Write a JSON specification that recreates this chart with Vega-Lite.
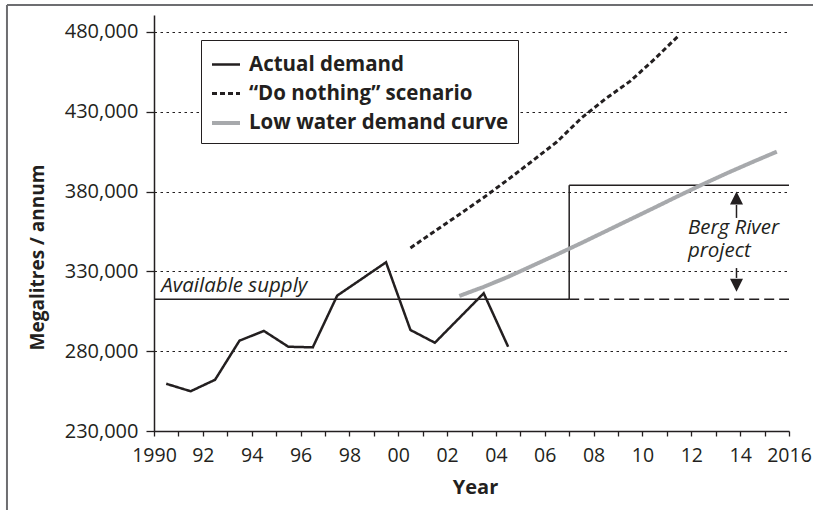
{
  "$schema": "https://vega.github.io/schema/vega-lite/v6.json",
  "width": 635,
  "height": 416,
  "autosize": {"type": "none"},
  "padding": {"left": 154, "top": 15, "right": 24, "bottom": 79},
  "background": "white",
  "config": {
    "view": {"stroke": null},
    "font": "Open Sans",
    "axis": {
      "labelFont": "Open Sans",
      "titleFont": "Open Sans",
      "labelColor": "#231f20",
      "titleColor": "#231f20",
      "domainColor": "#231f20",
      "tickColor": "#231f20",
      "domainWidth": 1.5,
      "tickWidth": 1.3
    },
    "legend": {
      "labelFont": "Open Sans",
      "labelFontSize": 20.5,
      "labelFontWeight": "bold",
      "labelColor": "#231f20",
      "labelLimit": 400,
      "symbolType": "stroke",
      "symbolSize": 784,
      "labelOffset": 7,
      "rowPadding": 3,
      "padding": 9,
      "strokeColor": "#231f20",
      "fillColor": "white"
    }
  },
  "datasets": {
    "series": [
      {"x": 1990.5, "y": 259600, "series": "Actual demand"},
      {"x": 1991.5, "y": 254900, "series": "Actual demand"},
      {"x": 1992.5, "y": 262100, "series": "Actual demand"},
      {"x": 1993.5, "y": 286600, "series": "Actual demand"},
      {"x": 1994.5, "y": 292700, "series": "Actual demand"},
      {"x": 1995.5, "y": 282800, "series": "Actual demand"},
      {"x": 1996.5, "y": 282400, "series": "Actual demand"},
      {"x": 1997.5, "y": 314800, "series": "Actual demand"},
      {"x": 1999.5, "y": 335700, "series": "Actual demand"},
      {"x": 2000.5, "y": 293300, "series": "Actual demand"},
      {"x": 2001.5, "y": 285300, "series": "Actual demand"},
      {"x": 2003.5, "y": 316300, "series": "Actual demand"},
      {"x": 2004.5, "y": 282800, "series": "Actual demand"},
      {"x": 2000.5, "y": 344700, "series": "“Do nothing” scenario"},
      {"x": 2001.5, "y": 355200, "series": "“Do nothing” scenario"},
      {"x": 2002.5, "y": 365700, "series": "“Do nothing” scenario"},
      {"x": 2003.5, "y": 376300, "series": "“Do nothing” scenario"},
      {"x": 2004.5, "y": 387600, "series": "“Do nothing” scenario"},
      {"x": 2005.5, "y": 399300, "series": "“Do nothing” scenario"},
      {"x": 2006.5, "y": 411200, "series": "“Do nothing” scenario"},
      {"x": 2007.5, "y": 426100, "series": "“Do nothing” scenario"},
      {"x": 2008.5, "y": 438300, "series": "“Do nothing” scenario"},
      {"x": 2009.5, "y": 449200, "series": "“Do nothing” scenario"},
      {"x": 2010.5, "y": 463100, "series": "“Do nothing” scenario"},
      {"x": 2011.5, "y": 478000, "series": "“Do nothing” scenario"},
      {"x": 2002.5, "y": 314600, "series": "Low water demand curve"},
      {"x": 2003.5, "y": 320300, "series": "Low water demand curve"},
      {"x": 2004.5, "y": 326600, "series": "Low water demand curve"},
      {"x": 2005.5, "y": 333600, "series": "Low water demand curve"},
      {"x": 2006.5, "y": 340600, "series": "Low water demand curve"},
      {"x": 2007.5, "y": 347800, "series": "Low water demand curve"},
      {"x": 2008.5, "y": 355200, "series": "Low water demand curve"},
      {"x": 2009.5, "y": 362600, "series": "Low water demand curve"},
      {"x": 2010.5, "y": 370000, "series": "Low water demand curve"},
      {"x": 2011.5, "y": 377500, "series": "Low water demand curve"},
      {"x": 2012.5, "y": 384800, "series": "Low water demand curve"},
      {"x": 2013.5, "y": 391800, "series": "Low water demand curve"},
      {"x": 2014.5, "y": 398500, "series": "Low water demand curve"},
      {"x": 2015.5, "y": 405000, "series": "Low water demand curve"}
    ],
    "segments": [
      {"x": 1990, "x2": 2007, "y": 312500, "y2": 312500, "part": "Available supply"},
      {"x": 2007, "x2": 2007, "y": 312500, "y2": 384000, "part": "Berg River project"},
      {"x": 2007, "x2": 2016, "y": 384000, "y2": 384000, "part": "Berg River project"},
      {"x": 2013.85, "x2": 2013.85, "y": 363500, "y2": 371600, "part": "arrow up"},
      {"x": 2013.85, "x2": 2013.85, "y": 325900, "y2": 332100, "part": "arrow down"}
    ],
    "future": [
      {"x": 2007, "x2": 2016, "y": 312500, "y2": 312500, "part": "Available supply (future)"}
    ],
    "arrowheads": [
      {"x": 2013.85, "y": 380000, "dir": "up"},
      {"x": 2013.85, "y": 317300, "dir": "down"}
    ],
    "notes": [
      {"x": 1990.3, "y": 316900, "text": "Available supply"},
      {"x": 2011.86, "y": 353300, "text": "Berg River\nproject"}
    ]
  },
  "encoding": {
    "x": {
      "field": "x",
      "type": "quantitative",
      "scale": {"domain": [1990, 2016], "nice": false, "zero": false},
      "title": "Year",
      "axis": {
        "values": [1990, 1991, 1992, 1993, 1994, 1995, 1996, 1997, 1998, 1999, 2000, 2001, 2002, 2003, 2004, 2005, 2006, 2007, 2008, 2009, 2010, 2011, 2012, 2013, 2014, 2015, 2016],
        "labelExpr": "datum.value == 1990 || datum.value == 2016 ? '' + datum.value : (datum.value % 2 == 0 ? slice('' + datum.value, 2) : '')",
        "tickSize": 5,
        "labelPadding": 10,
        "labelFontSize": 19.5,
        "labelOverlap": false,
        "labelFlush": false,
        "grid": false,
        "titleFontSize": 20,
        "titleFontWeight": "bold",
        "titleX": 321,
        "titleY": 56,
        "titleBaseline": "middle"
      }
    },
    "y": {
      "field": "y",
      "type": "quantitative",
      "scale": {"domain": [230000, 490650], "nice": false, "zero": false},
      "title": "Megalitres / annum",
      "axis": {
        "values": [230000, 280000, 330000, 380000, 430000, 480000],
        "format": ",d",
        "tickSize": 8,
        "labelPadding": 8,
        "labelFontSize": 20,
        "labelOverlap": false,
        "labelFlush": false,
        "grid": true,
        "gridDash": [2.5, 3.5],
        "gridColor": "#231f20",
        "gridWidth": 1,
        "titleFontSize": 19,
        "titleFontWeight": "bold",
        "titleAngle": 270,
        "titleX": -117,
        "titleY": 242,
        "titleBaseline": "middle",
        "titleAlign": "center"
      }
    }
  },
  "layer": [
    {
      "data": {"name": "segments"},
      "mark": {"type": "rule", "color": "#231f20", "strokeWidth": 1.5},
      "encoding": {
        "x2": {"field": "x2"},
        "y2": {"field": "y2"}
      }
    },
    {
      "data": {"name": "future"},
      "mark": {"type": "rule", "color": "#231f20", "strokeWidth": 1.5, "strokeDash": [10, 5]},
      "encoding": {
        "x2": {"field": "x2"},
        "y2": {"field": "y2"}
      }
    },
    {
      "data": {"name": "series"},
      "mark": {"type": "line", "strokeJoin": "miter", "strokeCap": "butt"},
      "encoding": {
        "color": {
          "field": "series",
          "type": "ordinal",
          "scale": {"domain": ["Actual demand", "“Do nothing” scenario", "Low water demand curve"], "range": ["#231f20", "#231f20", "#a7a9ac"]},
          "legend": {"title": null, "orient": "none", "legendX": 47, "legendY": 25}
        },
        "strokeDash": {
          "field": "series",
          "type": "ordinal",
          "scale": {"domain": ["Actual demand", "“Do nothing” scenario", "Low water demand curve"], "range": [[1, 0], [5, 3], [1, 0]]},
          "legend": {"title": null, "orient": "none", "legendX": 47, "legendY": 25}
        },
        "strokeWidth": {
          "field": "series",
          "type": "ordinal",
          "scale": {"type": "ordinal", "domain": ["Actual demand", "“Do nothing” scenario", "Low water demand curve"], "range": [2.5, 3, 4]},
          "legend": {"title": null, "orient": "none", "legendX": 47, "legendY": 25}
        }
      }
    },
    {
      "data": {"name": "arrowheads"},
      "mark": {"type": "point", "filled": true, "size": 169, "opacity": 1, "color": "#231f20"},
      "encoding": {
        "shape": {
          "field": "dir",
          "type": "nominal",
          "scale": {"domain": ["up", "down"], "range": ["M0,0L-1,2L1,2Z", "M0,0L-1,-2L1,-2Z"]},
          "legend": null
        }
      }
    },
    {
      "data": {"name": "notes"},
      "mark": {"type": "text", "align": "left", "baseline": "alphabetic", "fontStyle": "italic", "fontSize": 20.5, "font": "Open Sans", "color": "#231f20", "lineBreak": "\n", "lineHeight": 23},
      "encoding": {
        "text": {"field": "text"}
      }
    },
    {
      "data": {"name": "future"},
      "mark": {"type": "rule", "stroke": "#6d6e71", "strokeWidth": 2, "clip": false},
      "encoding": {
        "x": {"datum": 1983.98, "type": "quantitative"},
        "x2": {"datum": 2018},
        "y": {"datum": 496900, "type": "quantitative"},
        "y2": {"datum": 496900}
      }
    },
    {
      "data": {"name": "future"},
      "mark": {"type": "rule", "stroke": "#6d6e71", "strokeWidth": 2, "clip": false},
      "encoding": {
        "x": {"datum": 1983.98, "type": "quantitative"},
        "x2": {"datum": 1983.98},
        "y": {"datum": 496900, "type": "quantitative"},
        "y2": {"datum": 170000}
      }
    }
  ]
}
